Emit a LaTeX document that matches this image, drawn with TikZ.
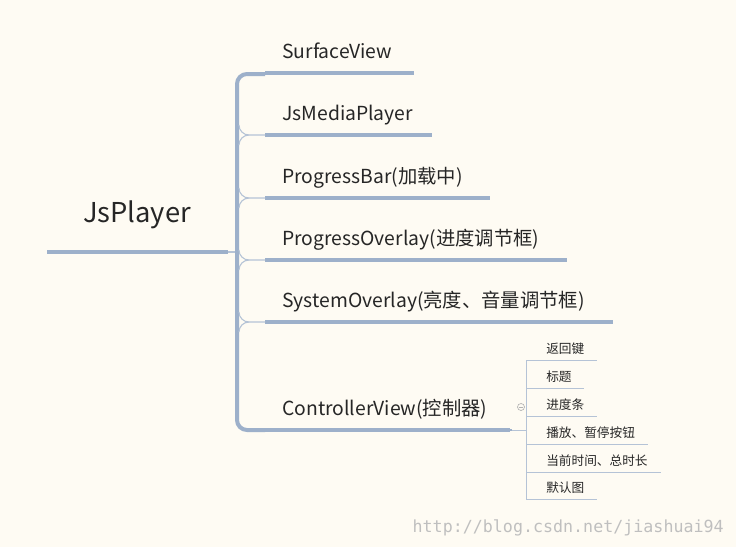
\documentclass[tikz,border=0pt]{standalone}
\usepackage{fontspec}
\setmainfont{Noto Sans CJK SC}
\setmonofont{DejaVu Sans Mono}
\definecolor{ln}{HTML}{9DB0CA}
\definecolor{lnt}{HTML}{B5C3D6}
\definecolor{bg}{HTML}{FEFBF3}
\begin{document}
\begin{tikzpicture}[x=0.75pt,y=-0.75pt,
  br/.style={draw=ln, line width=3pt},
  thin/.style={draw=lnt, line width=0.8pt},
  lbl/.style={anchor=base west, inner sep=0pt, font=\fontsize{14.5}{16}\selectfont, text=black!85},
  sub/.style={anchor=base west, inner sep=0pt, font=\fontsize{9.5}{11}\selectfont, text=black!85}]
\fill[bg] (0,0) rectangle (736,547);
\useasboundingbox (0,0) rectangle (736,547);
% root
\node[anchor=base, inner sep=0pt, font=\fontsize{20.5}{24}\selectfont, text=black!85] (root) at (137,222) {JsPlayer};
\coordinate (r1) at (47,252); \coordinate (r2) at (228,252);
\draw[br] (r1) -- (r2);
\coordinate (bj) at (237,252);
\draw[thin] (r2) -- (bj);
% bracket
\coordinate (bt) at (237,84); \coordinate (bb) at (237,420);
\draw[br] (265,74) -- (247,74) to[out=180,in=90] (bt) -- (bb) to[out=-90,in=180] (247,430) -- (265,430);
% branches
\foreach \n/\y/\e/\t in {a/73/414/SurfaceView, b/135/432/JsMediaPlayer, c/198/490/ProgressBar(加载中), d/260/567/ProgressOverlay(进度调节框), e/322/613/SystemOverlay(亮度、音量调节框), f/430/510/ControllerView(控制器)}{
  \node[lbl] (\n) at (282,\y-15) {\t};
  \draw[br] (265,\y) -- (\e,\y);
}
\foreach \y in {135,198,260,322}{
  \draw[thin] (265,\y) -- (249,\y) to[out=180,in=-90] (239,\y-10);
  \draw[thin] (249,\y) to[out=180,in=90] (239,\y+10);
}
% sub items
\draw[thin, line width=0.6pt] (510,430) -- (526,430);
\draw[br, line width=2pt] (500,430) -- (512,430);
\draw[thin, line width=0.6pt] (526,360) -- (526,499);
\foreach \n/\y/\e/\t in {s1/360/597/返回键, s2/388/584/标题, s3/416/597/进度条, s4/444/648/播放、暂停按钮, s5/472/661/当前时间、总时长, s6/499/597/默认图}{
  \node[sub] (\n) at (546,\y-7) {\t};
  \draw[thin, line width=0.6pt] (526,\y) -- (\e,\y);
}
\draw[gray!60, line width=0.5pt] (521,407) circle (3.5);
\draw[gray!60, line width=0.5pt] (519,407) -- (523,407);
\node[anchor=base east, inner sep=0pt, font=\ttfamily\fontsize{12.5}{13}\selectfont, text=black!25] (wm) at (724,532) {http://blog.csdn.net/jiashuai94};
\end{tikzpicture}
\end{document}
